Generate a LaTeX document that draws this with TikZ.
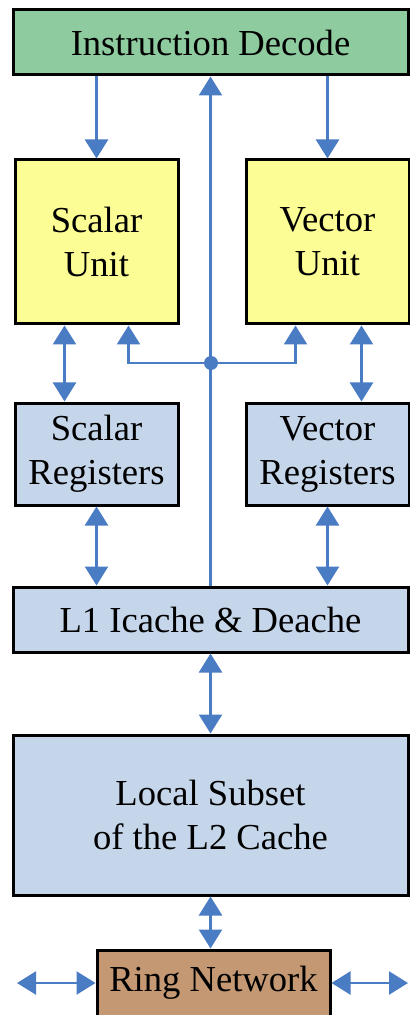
\documentclass[tikz,border=0pt]{standalone}
\usepackage{fontspec}
\setmainfont{Liberation Serif}
\usetikzlibrary{arrows.meta}
\definecolor{decgreen}{RGB}{142,204,160}
\definecolor{unityellow}{RGB}{253,253,150}
\definecolor{cacheblue}{RGB}{198,214,234}
\definecolor{ringbrown}{RGB}{196,152,114}
\definecolor{linkblue}{RGB}{74,124,196}
\begin{document}
\begin{tikzpicture}[x=0.5pt, y=-0.5pt,
  font=\fontsize{18.3}{22}\selectfont,
  bx/.style={draw=black, line width=1.5pt, align=center, inner sep=0pt},
  decbox/.style={bx, fill=decgreen, minimum width=197.5pt, minimum height=32.5pt},
  unitbox/.style={bx, fill=unityellow, minimum width=81.5pt, minimum height=82pt},
  regbox/.style={bx, fill=cacheblue, minimum width=81.5pt, minimum height=51pt},
  cachebox/.style={bx, fill=cacheblue, minimum width=197.5pt},
  ringbox/.style={bx, fill=ringbrown, minimum width=116.5pt, minimum height=33pt},
  ar/.style={draw=linkblue, line width=1.2pt, -{Triangle[width=11.5pt,length=9.5pt]}},
  dar/.style={ar, {Triangle[width=11.5pt,length=9.5pt]}-{Triangle[width=11.5pt,length=9.5pt]}},
]
  \fill[white] (0,0) rectangle (410,1015);
  \useasboundingbox (0,0) rectangle (410,1015);

  \node[decbox] (dec) at (210.5,42.5)   {Instruction Decode};
  \node[unitbox] (su) at (96.5,242)     {Scalar\\Unit};
  \node[unitbox] (vu) at (327.5,242)    {Vector\\Unit};
  \node[regbox] (sr) at (96.5,454)      {Scalar\\Registers};
  \node[regbox] (vr) at (327.5,454)     {Vector\\Registers};
  \node[cachebox, minimum height=32.5pt] (l1) at (210.5,619.5) {L1 Icache \& Deache};
  \node[cachebox, minimum height=80pt] (l2) at (210.5,815)     {Local Subset\\of the L2 Cache};
  \node[ringbox] (ring) at (213.5,983)  {Ring Network};

  \coordinate (j) at (211,363);
  \coordinate (rl) at (17,983);
  \coordinate (rr) at (408,983);

  \draw[ar] (dec.south -| su.north) -- (su.north);
  \draw[ar] (dec.south -| vu.north) -- (vu.north);
  \draw[ar] (l1.north) -- (dec.south);
  \fill[linkblue] (j) circle (3.5pt);
  \draw[ar] (j) -| ([xshift=16pt]su.south);
  \draw[ar] (j) -| ([xshift=-16pt]vu.south);
  \draw[dar] ([xshift=-16pt]su.south) -- ([xshift=-16pt]sr.north);
  \draw[dar] ([xshift=17pt]vu.south) -- ([xshift=17pt]vr.north);
  \draw[dar] (sr.south) -- (l1.north -| sr.south);
  \draw[dar] (vr.south) -- (l1.north -| vr.south);
  \draw[dar] (l1.south) -- (l2.north);
  \draw[dar] (l2.south) -- (l2.south |- ring.north);
  \draw[dar] (rl) -- (ring.west);
  \draw[dar] (ring.east) -- (rr);
\end{tikzpicture}
\end{document}
